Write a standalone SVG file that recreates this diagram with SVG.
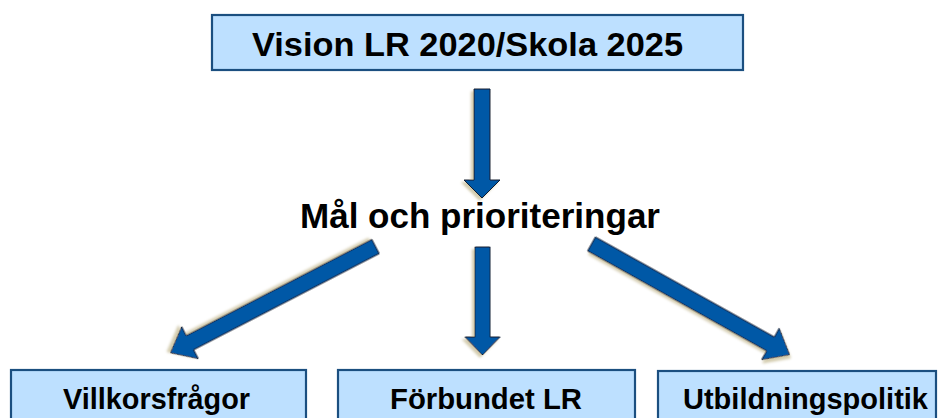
<svg xmlns="http://www.w3.org/2000/svg" width="942" height="418" viewBox="0 0 942 418">
<defs>
<filter id="sh" x="-20%" y="-20%" width="140%" height="140%">
<feDropShadow dx="2.5" dy="2.5" stdDeviation="1.2" flood-color="#cfc6a6" flood-opacity="0.9"/>
</filter>
</defs>
<style>
.box{fill:#bde0ff;stroke:#1b4f80;stroke-width:2.2}
.arr{fill:#0659a6;stroke:#0a1a30;stroke-width:1;filter:url(#sh)}
.t{font-family:"Liberation Sans",Arial,sans-serif;font-weight:bold;fill:#000}
</style>
<rect width="942" height="418" fill="#fff"/>
<g id="vision">
<rect class="box" x="212" y="15" width="531" height="55"/>
<text class="t" x="252" y="56" font-size="34" textLength="431" lengthAdjust="spacingAndGlyphs">Vision LR 2020/Skola 2025</text>
</g>
<g id="mal">
<text class="t" x="300" y="228" font-size="35" textLength="360" lengthAdjust="spacingAndGlyphs">Mål och prioriteringar</text>
</g>
<g id="villkor">
<rect class="box" x="11" y="370" width="295" height="50"/>
<text class="t" x="63" y="409" font-size="30" textLength="187" lengthAdjust="spacingAndGlyphs">Villkorsfrågor</text>
</g>
<g id="forbundet">
<rect class="box" x="338" y="370" width="297" height="50"/>
<text class="t" x="390" y="409" font-size="30" textLength="192" lengthAdjust="spacingAndGlyphs">Förbundet LR</text>
</g>
<g id="utbildning">
<rect class="box" x="658" y="371" width="278" height="49"/>
<text class="t" x="683" y="409" font-size="30" textLength="245" lengthAdjust="spacingAndGlyphs">Utbildningspolitik</text>
</g>
<g id="connectors">
<path class="arr" transform="translate(482,89) rotate(90)" d="M0,-8 H91 V-18 L109,0 L91,18 V8 H0 Z"/>
<path class="arr" transform="translate(482.5,247) rotate(90)" d="M0,-7.5 H90 V-17.5 L108,0 L90,17.5 V7.5 H0 Z"/>
<path class="arr" transform="translate(375.5,246.5) rotate(152.6)" d="M0,-8 H209 V-18 L231,0 L209,18 V8 H0 Z"/>
<path class="arr" transform="translate(591.5,244) rotate(29.2)" d="M0,-8 H205 V-18 L227,0 L205,18 V8 H0 Z"/>
</g>
</svg>
